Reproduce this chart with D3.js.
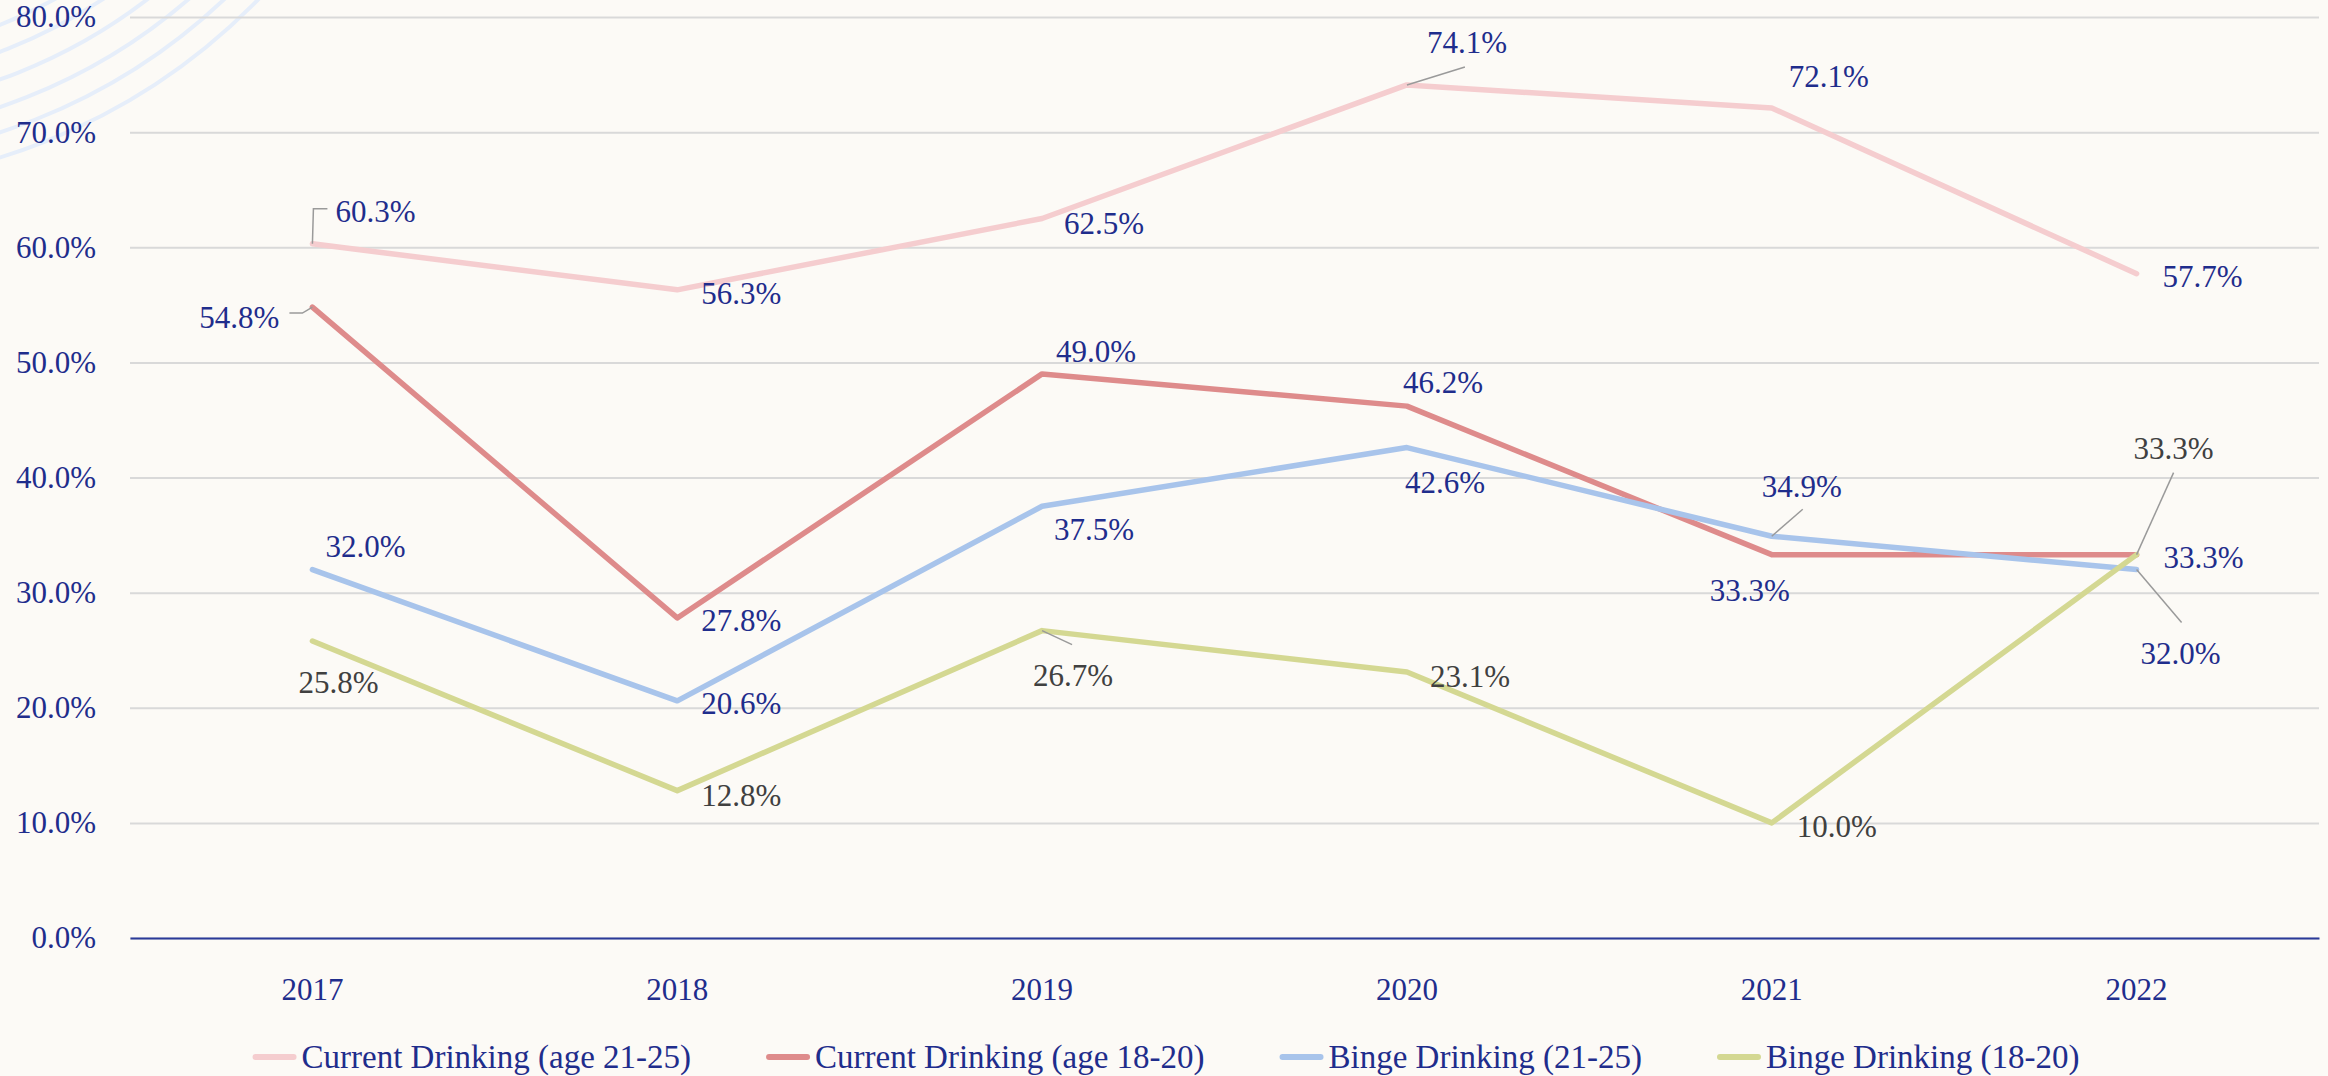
<!DOCTYPE html>
<html>
<head>
<meta charset="utf-8">
<script src="https://cdn.jsdelivr.net/npm/d3@7"></script>
<style>
  html, body { margin: 0; padding: 0; background: #fcfaf6; }
  svg { display: block; }
  text { font-family: "Liberation Serif", "Times New Roman", serif; }
</style>
</head>
<body>
<div id="chart"></div>
<script>
// data
const years = ["2017", "2018", "2019", "2020", "2021", "2022"];
const seriesNames = [
    "Current Drinking (age 21-25)",
    "Current Drinking (age 18-20)",
    "Binge Drinking (21-25)",
    "Binge Drinking (18-20)"
];
const currentOlder = [60.3, 56.3, 62.5, 74.1, 72.1, 57.7];
const currentYounger = [54.8, 27.8, 49.0, 46.2, 33.3, 33.3];
const bingeOlder = [32.0, 20.6, 37.5, 42.6, 34.9, 32.0];
const bingeYounger = [25.8, 12.8, 26.7, 23.1, 10.0, 33.3];
const yTicks = [0, 10, 20, 30, 40, 50, 60, 70, 80];

// look
const lineColors = ["#f5cdcf", "#de8b8b", "#a8c4eb", "#d4d892"];
const labelColors = ["#1f2d8c", "#1f2d8c", "#1f2d8c", "#404040"];
const blue = "#1f2d8c";

// label offsets from each point (dx, dy to text middle, optional leader)
const placement = [
    [{dx: 23, dy: -32, lead: [[1, -35], [15, -35]]}, {dx: 24, dy: 4}, {dx: 22, dy: 5},
     {dx: 20, dy: -42, lead: [[58, -18]]}, {dx: 17, dy: -31}, {dx: 26, dy: 3}],
    [{dx: -33, dy: 10, end: true, lead: [[-10, 6], [-23, 6]]}, {dx: 24, dy: 3}, {dx: 14, dy: -22},
     {dx: -4, dy: -24}, {dx: -62, dy: 36}, {dx: 27, dy: 3}],
    [{dx: 13, dy: -23}, {dx: 24, dy: 3}, {dx: 12, dy: 23},
     {dx: -2, dy: 35}, {dx: -10, dy: -50, lead: [[31, -27]]}, {dx: 4, dy: 84, lead: [[45, 53]]}],
    [{dx: -14, dy: 42}, {dx: 24, dy: 5}, {dx: -9, dy: 45, lead: [[30, 14]]},
     {dx: 23, dy: 4}, {dx: 25, dy: 4}, {dx: -3, dy: -106, lead: [[37, -82]]}]
];

const totalWidth = 2328,
    totalHeight = 1076;
const margin = {top: 17, right: 9, bottom: 138, left: 130};
const width = totalWidth - margin.left - margin.right,
    height = totalHeight - margin.top - margin.bottom;

const series = [currentOlder, currentYounger, bingeOlder, bingeYounger];

const svg = d3.select("#chart").append("svg")
    .attr("width", totalWidth)
    .attr("height", totalHeight);

svg.append("rect")
    .attr("width", totalWidth)
    .attr("height", totalHeight)
    .attr("fill", "#fcfaf6");

// faint rings in the corner
svg.append("g").selectAll("circle")
    .data([490, 515, 541, 567, 591, 615])
    .join("circle")
    .attr("cx", -182)
    .attr("cy", -430)
    .attr("r", d => d)
    .attr("fill", "none")
    .attr("stroke", "#e6eefa")
    .attr("stroke-width", 4);

const g = svg.append("g")
    .attr("transform", "translate(" + margin.left + "," + margin.top + ")");

const xScale = d3.scaleBand().domain(years).range([0, width]);
const yScale = d3.scaleLinear().domain([0, 80]).range([height, 0]);
const px = d => xScale(d) + xScale.bandwidth() / 2;

// grid + y labels
const yAxis = d3.axisLeft(yScale)
    .tickValues(yTicks)
    .tickSize(-width)
    .tickPadding(34)
    .tickFormat(d => d.toFixed(1) + "%");

g.append("g")
    .call(yAxis)
    .call(s => s.select(".domain").remove())
    .call(s => s.selectAll(".tick line").attr("stroke", "#d9d9d9").attr("stroke-width", 2))
    .call(s => s.selectAll(".tick text")
        .attr("fill", blue)
        .attr("font-size", 31)
        .attr("font-family", "Liberation Serif, serif"));

// x axis
const xAxis = d3.axisBottom(xScale).tickSize(0).tickPadding(40);
g.append("g")
    .attr("transform", "translate(0," + height + ")")
    .call(xAxis)
    .call(s => s.select(".domain").attr("stroke", "#2b3a99").attr("stroke-width", 2))
    .call(s => s.selectAll(".tick text")
        .attr("fill", blue)
        .attr("font-size", 31)
        .attr("font-family", "Liberation Serif, serif"));

const line = d3.line()
    .x((d, i) => px(years[i]))
    .y(d => yScale(d));

g.selectAll(".series")
    .data(series)
    .join("path")
    .attr("class", "series")
    .attr("d", d => line(d))
    .attr("fill", "none")
    .attr("stroke", (d, i) => lineColors[i])
    .attr("stroke-width", 5.5)
    .attr("stroke-linejoin", "round")
    .attr("stroke-linecap", "round");

// leaders and labels
series.forEach(function(values, si) {
    values.forEach(function(v, i) {
        const p = placement[si][i];
        const x0 = px(years[i]), y0 = yScale(v);
        if (p.lead) {
            const pts = [[x0, y0]].concat(p.lead.map(o => [x0 + o[0], y0 + o[1]]));
            g.append("path")
                .attr("d", d3.line()(pts))
                .attr("fill", "none")
                .attr("stroke", "#9a9a9a")
                .attr("stroke-width", 1.5);
        }
        g.append("text")
            .attr("x", x0 + p.dx)
            .attr("y", y0 + p.dy)
            .attr("dominant-baseline", "central")
            .attr("text-anchor", p.end ? "end" : "start")
            .attr("font-size", 31)
            .attr("fill", labelColors[si])
            .text(v.toFixed(1) + "%");
    });
});

// legend
const legend = svg.append("g").attr("transform", "translate(0,1057)");
const items = legend.selectAll("g")
    .data(seriesNames)
    .join("g");
items.append("line")
    .attr("x1", 3)
    .attr("x2", 41)
    .attr("stroke", (d, i) => lineColors[i])
    .attr("stroke-width", 6)
    .attr("stroke-linecap", "round");
items.append("text")
    .attr("x", 49)
    .attr("dominant-baseline", "central")
    .attr("font-size", 33)
    .attr("fill", blue)
    .text(d => d);

const gap = 75;
const widths = [];
items.each(function() {
    widths.push(49 + d3.select(this).select("text").node().getComputedTextLength());
});
const legendWidth = d3.sum(widths) + gap * (widths.length - 1);
let cursor = 1166 - legendWidth / 2;
items.attr("transform", function(d, i) {
    const t = "translate(" + cursor + ",0)";
    cursor += widths[i] + gap;
    return t;
});
</script>
</body>
</html>
